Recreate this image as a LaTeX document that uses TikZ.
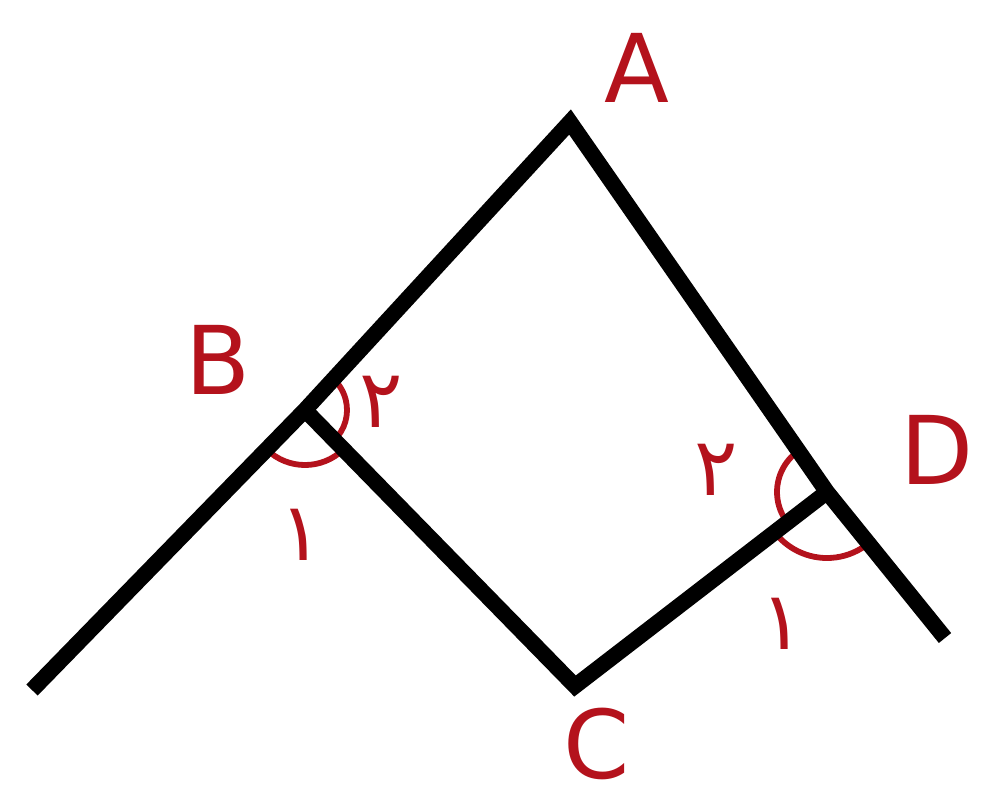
\documentclass[tikz,border=0pt]{standalone}
\usepackage{fontspec}
\setmainfont{DejaVu Sans}
\newfontfamily\fadigits[Script=Arabic]{DejaVu Sans}
\definecolor{ink}{RGB}{180,18,28}
\begin{document}
\begin{tikzpicture}[x=0.02cm,y=-0.02cm,
  seg/.style={line width=9pt,black,line join=miter,line cap=butt},
  anglearc/.style={line width=3.3pt,ink,line cap=round},
  vlabel/.style={text=ink,font=\fontsize{54}{56}\selectfont,inner sep=0pt},
  dlabel/.style={text=ink,font=\fadigits\fontsize{46}{48}\selectfont,inner sep=0pt}]
\useasboundingbox (0,0) rectangle (989,806);
\fill[white] (0,0) rectangle (989,806);
\coordinate (A) at (570,122);
\coordinate (B) at (305,410);
\coordinate (C) at (575,686);
\coordinate (D) at (827,492);
\coordinate (E1) at (32,690);
\coordinate (E2) at (945,638);
% angle arcs (y axis points down: positive angles turn clockwise on the page)
\draw[anglearc] ([shift={(134:55)}]B) arc[start angle=134,end angle=46,radius=55];
\draw[anglearc] ([shift={(46:42)}]B) arc[start angle=46,end angle=-47,radius=42];
\draw[anglearc] ([shift={(-125:50)}]D) arc[start angle=-125,end angle=-218,radius=50];
\draw[anglearc] ([shift={(142:66)}]D) arc[start angle=142,end angle=51,radius=66];
% lines
\draw[seg] (E1) -- (B) -- (A) -- (D) -- (E2);
\draw[seg] (B) -- (C) -- (D);
% labels
\node[vlabel] (lA) at (637,68) {A};
\node[vlabel] (lB) at (218,360) {B};
\node[vlabel] (lC) at (597,744) {C};
\node[vlabel] (lD) at (937,450) {D};
\node[dlabel] (b2) at (381,402) {۲};
\node[dlabel] (b1) at (301,535) {۱};
\node[dlabel] (d2) at (716,470) {۲};
\node[dlabel] (d1) at (782,624) {۱};
\end{tikzpicture}
\end{document}
